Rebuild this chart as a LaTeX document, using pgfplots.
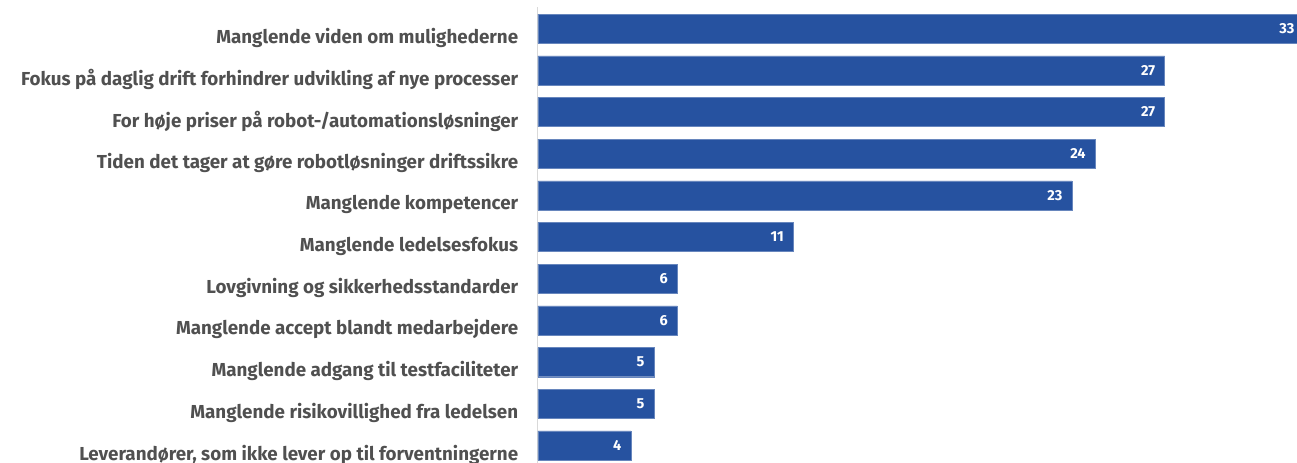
\documentclass[border=0pt]{standalone}
\usepackage{pgfplots}
\pgfplotsset{compat=1.18}
\usepackage{fontspec}
\setmainfont{Fira Sans}
\definecolor{barblue}{HTML}{2652A0}
\definecolor{labgray}{HTML}{505050}
\begin{document}
\begin{tikzpicture}
\begin{axis}[
  scale only axis,
  width=759pt, height=456pt,
  xbar, bar width=0.70,
  xmin=0, xmax=32.7,
  ymin=-0.52, ymax=10.42,
  y dir=reverse,
  hide x axis,
  axis y line*=left,
  y axis line style={draw=black!15, line width=1pt},
  ytick={0,...,10},
  yticklabels={
    Manglende viden om mulighederne,
    Fokus på daglig drift forhindrer udvikling af nye processer,
    For høje priser på robot-/automationsløsninger,
    Tiden det tager at gøre robotløsninger driftssikre,
    Manglende kompetencer,
    Manglende ledelsesfokus,
    Lovgivning og sikkerhedsstandarder,
    Manglende accept blandt medarbejdere,
    Manglende adgang til testfaciliteter,
    Manglende risikovillighed fra ledelsen,
    {Leverandører, som ikke lever op til forventningerne}},
  yticklabel style={font=\fontsize{18.8}{20}\selectfont\bfseries, text=labgray, xshift=-12pt, yshift=-9pt},
  ytick style={draw=none},
  nodes near coords,
  /pgf/number format/assume math mode=true,
  every node near coord/.append style={anchor=east, text=white, font=\fontsize{14.5}{16}\selectfont\bfseries, xshift=-6pt},
  clip=false,
]
\addplot[fill=barblue, draw=barblue!70!white] coordinates {
(33,0) (27,1) (27,2) (24,3) (23,4) (11,5) (6,6) (6,7) (5,8) (5,9) (4,10)};
\coordinate (A) at (axis description cs:0,0);
\coordinate (B) at (axis description cs:1,1);
\end{axis}
\pgfresetboundingbox
\path[use as bounding box] ([xshift=-538pt]A) rectangle ([yshift=7pt]B);
\end{tikzpicture}
\end{document}
